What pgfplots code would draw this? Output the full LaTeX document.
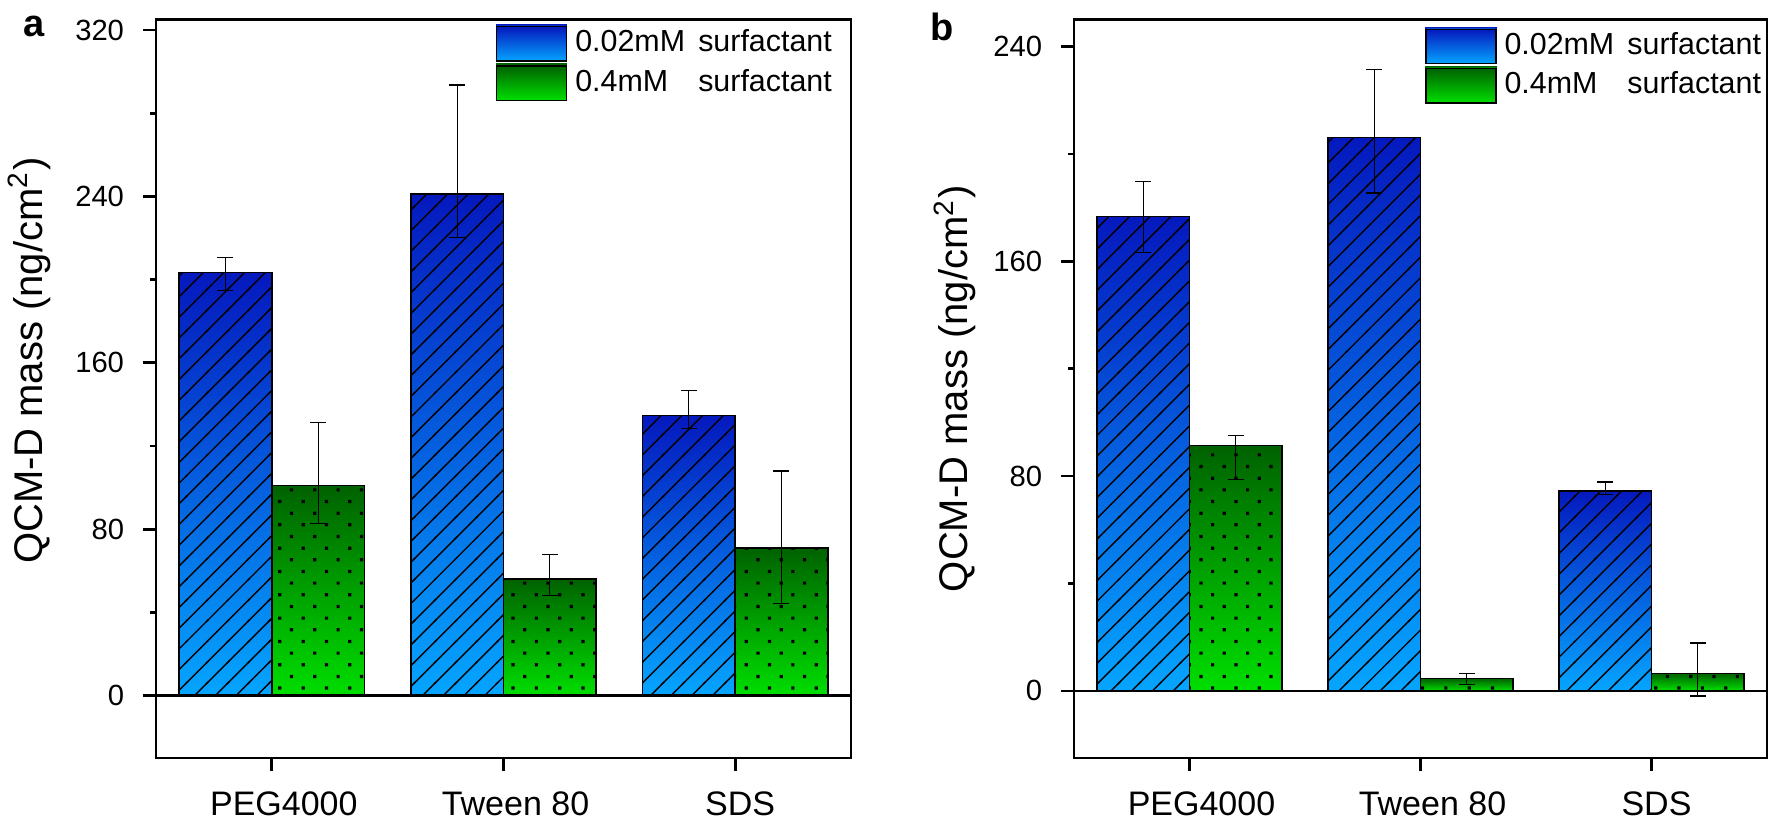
\documentclass[border=0pt]{standalone}
\usepackage{fontspec}
\setmainfont{Liberation Sans}
\usepackage{pgfplots}
\usepackage{pgfplotstable}
\pgfplotsset{compat=1.18}
\usetikzlibrary{patterns}
\definecolor{bluetop}{RGB}{5,25,190}
\definecolor{bluebot}{RGB}{5,165,255}
\definecolor{greentop}{RGB}{0,98,0}
\definecolor{greenbot}{RGB}{0,222,0}

\pgfdeclarepatternformonly{myhatch}{\pgfqpoint{-1pt}{-1pt}}{\pgfqpoint{6.2pt}{6.2pt}}{\pgfqpoint{5.18pt}{5.18pt}}{%
  \pgfsetlinewidth{0.35pt}%
  \pgfpathmoveto{\pgfqpoint{-0.3pt}{-0.3pt}}%
  \pgfpathlineto{\pgfqpoint{5.48pt}{5.48pt}}%
  \pgfusepath{stroke}}
\pgfdeclarepatternformonly{mydots}{\pgfqpoint{-0.5pt}{-0.5pt}}{\pgfqpoint{6.3pt}{6.3pt}}{\pgfqpoint{5.83pt}{5.83pt}}{%
  \pgfpathrectangle{\pgfqpoint{-0.4pt}{-0.4pt}}{\pgfqpoint{0.8pt}{0.8pt}}%
  \pgfpathrectangle{\pgfqpoint{2.515pt}{2.515pt}}{\pgfqpoint{0.8pt}{0.8pt}}%
  \pgfusepath{fill}}

% error bars: x position, value, plus, minus
\pgfplotstableread{
x y ep em
-0.2 203.3 7.5 8.5
0.8 241.1 52.5 20.9
1.8 134.6 12.0 6.3
}\Ablue
\pgfplotstableread{
x y ep em
0.2 100.9 30.4 18.2
1.2 56.0 12.0 7.8
2.2 71.0 37.0 26.6
}\Agreen
\pgfplotstableread{
x y ep em
-0.2 176.7 13.0 13.4
0.8 206.0 25.5 20.6
1.8 74.5 3.3 1.4
}\Bblue
\pgfplotstableread{
x y ep em
0.2 91.4 3.7 12.8
1.2 4.5 2.0 2.0
2.2 6.5 11.3 8.4
}\Bgreen

\pgfplotsset{
  bluefill/.style={ybar, bar width=0.4, bar shift=-0.2, draw=black, line width=0.35pt,
    top color=bluetop, bottom color=bluebot},
  bluepat/.style={ybar, bar width=0.4, bar shift=-0.2, draw=black, line width=0.35pt,
    pattern=myhatch, pattern color=black, forget plot},
  greenfill/.style={ybar, bar width=0.4, bar shift=0.2, draw=black, line width=0.35pt,
    top color=greentop, bottom color=greenbot},
  greenpat/.style={ybar, bar width=0.4, bar shift=0.2, draw=black, line width=0.35pt,
    pattern=mydots, pattern color=black, forget plot},
  bluelegend/.style={legend image code/.code={%
    \foreach \i [evaluate=\i as \p using 100*\i/19] in {0,...,19}
      {\fill[bluetop!\p!bluebot] (0pt,{-4.3pt+\i*0.4526pt}) rectangle (17.5pt,{-4.3pt+(\i+1)*0.4526pt+0.05pt});}
    \draw[black, line width=0.35pt] (0pt,2.2pt) -- (2.1pt,4.3pt);
    \draw[black, line width=0.35pt] (0pt,-3.0pt) -- (7.3pt,4.3pt);
    \draw[black, line width=0.35pt] (3.9pt,-4.3pt) -- (12.5pt,4.3pt);
    \draw[black, line width=0.35pt] (9.1pt,-4.3pt) -- (17.5pt,4.1pt);
    \draw[black, line width=0.35pt] (14.3pt,-4.3pt) -- (17.5pt,-1.1pt);
    \draw[black, line width=0.35pt] (0pt,-4.3pt) rectangle (17.5pt,4.3pt);}},
  greenlegend/.style={legend image code/.code={%
    \foreach \i [evaluate=\i as \p using 100*\i/19] in {0,...,19}
      {\fill[greentop!\p!greenbot] (0pt,{-4.3pt+\i*0.4526pt}) rectangle (17.5pt,{-4.3pt+(\i+1)*0.4526pt+0.05pt});}
    \foreach \xx in {3.1,8.93,14.76} {%
        \fill[black] (\xx pt,-3.3pt) rectangle ++(0.8pt,0.8pt);
        \fill[black] (\xx pt,2.5pt) rectangle ++(0.8pt,0.8pt);}
    \foreach \xx in {0.3,6.0,11.8} {%
        \fill[black] (\xx pt,-0.4pt) rectangle ++(0.8pt,0.8pt);}
    \draw[black, line width=0.35pt] (0pt,-4.3pt) rectangle (17.5pt,4.3pt);}},
  errs/.style={forget plot, draw=none, mark=none,
    error bars/.cd, y dir=both, y explicit,
    error bar style={draw=black, line width=0.3pt},
    error mark options={rotate=90, draw=black, line width=0.3pt, mark size=2pt}},
  myaxis/.style={
    scale only axis, anchor=south west, height=184.6pt,
    xmin=-0.5, xmax=2.5,
    xtick={0,1,2}, xticklabels={\hspace{6pt}PEG4000,\hspace{6pt}Tween 80,\hspace{2.5pt}SDS},
    xtick pos=left, ytick pos=left, tick align=outside,
    major tick length=3.3pt, minor tick length=1.5pt,
    axis line style={line width=0.67pt},
    tick style={line width=0.67pt, black},
    /pgf/number format/assume math mode=true,
    yticklabel style={font=\fontsize{7.3}{8}\selectfont, inner sep=0pt, xshift=-4.5pt},
    xticklabel style={font=\fontsize{8.5}{9}\selectfont, inner sep=0pt, anchor=base, yshift=-11pt},
    label style={font=\fontsize{10.5}{13}\selectfont},
    legend cell align=left,
  },
}

\begin{document}
\begin{tikzpicture}
\path[use as bounding box] (0,0) rectangle (442.25pt,207pt);

\begin{axis}[myaxis, at={(39pt,17.5pt)}, width=173.75pt,
  ymin=-30, ymax=325, ytick={0,80,160,240,320}, minor ytick={40,120,200,280},
  ylabel={QCM-D mass (ng/cm\textsuperscript{2})},
  every axis y label/.style={at={(axis description cs:-0.164,0.538)}, rotate=90, anchor=base},
  legend style={draw=none, at={(1,1)}, anchor=north east, xshift=-4.8pt, yshift=-1.1pt,
    inner sep=0pt, outer sep=0pt, column sep=2.0pt, row sep=0pt,
    font=\fontsize{7.6}{8}\selectfont, nodes={inner sep=0pt, minimum height=9.6pt}},
]
\addplot[bluefill, bluelegend] coordinates {(0,203.3)};
\addlegendentry{0.02mM\hspace{3.3pt}surfactant}
\addplot[greenfill, greenlegend] coordinates {(0,100.9)};
\addlegendentry{0.4mM\phantom{0}\hspace{3.3pt}surfactant}
\addplot[bluefill, forget plot] coordinates {(1,241.1)};
\addplot[greenfill, forget plot] coordinates {(1,56.0)};
\addplot[bluefill, forget plot] coordinates {(2,134.6)};
\addplot[greenfill, forget plot] coordinates {(2,71.0)};
\addplot[bluepat] coordinates {(0,203.3) (1,241.1) (2,134.6)};
\addplot[greenpat] coordinates {(0,100.9) (1,56.0) (2,71.0)};
\addplot[errs] table[x=x, y=y, y error plus=ep, y error minus=em] {\Ablue};
\addplot[errs] table[x=x, y=y, y error plus=ep, y error minus=em] {\Agreen};
\addplot[black, line width=0.67pt, forget plot] coordinates {(-0.5,0) (2.5,0)};
\end{axis}

\begin{axis}[myaxis, at={(268.5pt,17.5pt)}, width=173.25pt,
  ymin=-25, ymax=250, ytick={0,80,160,240}, minor ytick={40,120,200},
  ylabel={QCM-D mass (ng/cm\textsuperscript{2})},
  every axis y label/.style={at={(axis description cs:-0.153,0.50)}, rotate=90, anchor=base},
  legend style={draw=none, at={(1,1)}, anchor=north east, xshift=-1.5pt, yshift=-1.75pt,
    inner sep=0pt, outer sep=0pt, column sep=2.0pt, row sep=0pt,
    font=\fontsize{7.6}{8}\selectfont, nodes={inner sep=0pt, minimum height=9.6pt}},
]
\addplot[bluefill, bluelegend] coordinates {(0,176.7)};
\addlegendentry{0.02mM\hspace{3.3pt}surfactant}
\addplot[greenfill, greenlegend] coordinates {(0,91.4)};
\addlegendentry{0.4mM\phantom{0}\hspace{3.3pt}surfactant}
\addplot[bluefill, forget plot] coordinates {(1,206.0)};
\addplot[greenfill, forget plot] coordinates {(1,4.5)};
\addplot[bluefill, forget plot] coordinates {(2,74.5)};
\addplot[greenfill, forget plot] coordinates {(2,6.5)};
\addplot[bluepat] coordinates {(0,176.7) (1,206.0) (2,74.5)};
\addplot[greenpat] coordinates {(0,91.4) (1,4.5) (2,6.5)};
\addplot[errs] table[x=x, y=y, y error plus=ep, y error minus=em] {\Bblue};
\addplot[errs] table[x=x, y=y, y error plus=ep, y error minus=em] {\Bgreen};
\addplot[black, line width=0.67pt, forget plot] coordinates {(-0.5,0) (2.5,0)};
\end{axis}

\node[font=\bfseries\fontsize{9.5}{11}\selectfont, anchor=base west, inner sep=0pt] at (5.7pt,197.8pt) {a};
\node[font=\bfseries\fontsize{9.5}{11}\selectfont, anchor=base west, inner sep=0pt] at (232.5pt,196.8pt) {b};
\end{tikzpicture}
\end{document}
